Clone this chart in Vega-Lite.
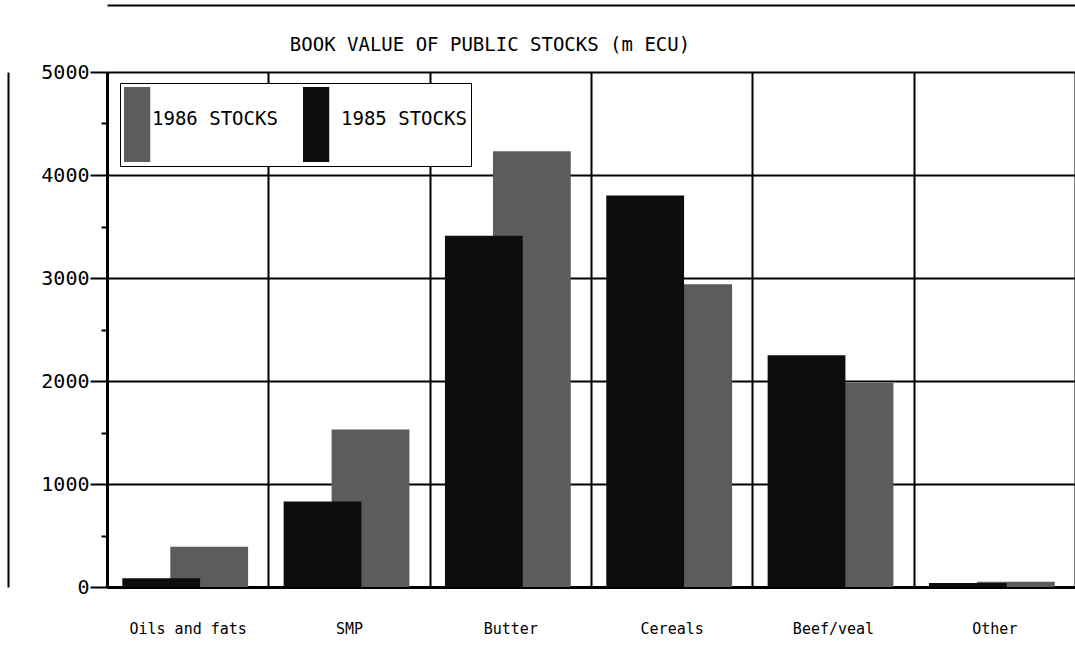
{
  "$schema": "https://vega.github.io/schema/vega-lite/v6.json",
  "width": 968,
  "height": 515,
  "autosize": {"type": "none"},
  "padding": {"left": 107, "top": 72, "right": 0, "bottom": 76},
  "background": "white",
  "title": {"text": "BOOK VALUE OF PUBLIC STOCKS (m ECU)", "font": "DejaVu Sans Mono", "fontSize": 19, "fontWeight": "normal", "anchor": "middle", "dx": -101, "offset": -50, "color": "black"},
  "data": {"values": [
    {"commodity": "Oils and fats", "series": "1986 STOCKS", "value": 390},
    {"commodity": "SMP", "series": "1986 STOCKS", "value": 1530},
    {"commodity": "Butter", "series": "1986 STOCKS", "value": 4230},
    {"commodity": "Cereals", "series": "1986 STOCKS", "value": 2940},
    {"commodity": "Beef/veal", "series": "1986 STOCKS", "value": 1980},
    {"commodity": "Other", "series": "1986 STOCKS", "value": 50},
    {"commodity": "Oils and fats", "series": "1985 STOCKS", "value": 85},
    {"commodity": "SMP", "series": "1985 STOCKS", "value": 830},
    {"commodity": "Butter", "series": "1985 STOCKS", "value": 3410},
    {"commodity": "Cereals", "series": "1985 STOCKS", "value": 3800},
    {"commodity": "Beef/veal", "series": "1985 STOCKS", "value": 2250},
    {"commodity": "Other", "series": "1985 STOCKS", "value": 40}
  ]},
  "layer": [
    {
      "mark": {"type": "bar", "width": {"band": 1.62}},
      "encoding": {
        "x": {
          "field": "commodity", "type": "nominal",
          "sort": ["Oils and fats", "SMP", "Butter", "Cereals", "Beef/veal", "Other"],
          "scale": {"paddingInner": 0, "paddingOuter": 0},
          "axis": {
            "title": null, "labelAngle": 0, "tickBand": "extent", "ticks": false,
            "grid": true, "gridColor": "black", "gridWidth": 2, "gridOpacity": 1,
            "domainColor": "black", "domainWidth": 3,
            "labelFont": "DejaVu Sans Mono", "labelFontSize": 15, "labelColor": "black", "labelPadding": 34,
            "encode": {"labels": {"update": {"dx": {"signal": "datum.value === 'SMP' ? -41 : datum.value === 'Butter' ? -37 : datum.value === 'Cereals' ? -15 : datum.value === 'Beef/veal' ? -26 : datum.value === 'Other' ? -10 : 0"}}}}
          }
        },
        "xOffset": {"field": "series", "type": "nominal", "sort": ["1985 STOCKS", "1986 STOCKS"], "scale": {"paddingInner": 0, "paddingOuter": 0.68, "align": 1}},
        "y": {
          "field": "value", "type": "quantitative", "stack": null,
          "scale": {"domain": [0, 5000], "nice": false},
          "axis": {
            "title": null,
            "values": [0, 500, 1000, 1500, 2000, 2500, 3000, 3500, 4000, 4500, 5000],
            "format": "d",
            "labelExpr": "datum.value % 1000 === 0 ? datum.label : ''",
            "labelFont": "DejaVu Sans Mono", "labelFontSize": 20, "labelColor": "black", "labelPadding": 1,
            "tickColor": "black", "tickWidth": 2,
            "tickSize": {"condition": {"test": "datum.value % 1000 === 0", "value": 17}, "value": 6},
            "domainColor": "black", "domainWidth": 3,
            "grid": true, "gridColor": "black", "gridWidth": 2,
            "gridOpacity": {"condition": {"test": "datum.value % 1000 === 0", "value": 1}, "value": 0}
          }
        },
        "color": {
          "field": "series", "type": "nominal",
          "scale": {"domain": ["1986 STOCKS", "1985 STOCKS"], "range": ["#5c5c5c", "#0d0d0d"]},
          "legend": {
            "orient": "none", "legendX": 13, "legendY": 11, "direction": "horizontal", "title": null,
            "symbolType": "M-1,-1H-0.3V1H-1Z", "symbolSize": 5625, "symbolStrokeWidth": 0, "symbolOpacity": 1,
            "labelFont": "DejaVu Sans Mono", "labelFontSize": 19, "labelColor": "black", "labelOffset": -47, "labelBaseline": "alphabetic",
            "labelExpr": "datum.value === '1985 STOCKS' ? datum.label + ' ' : datum.label",
            "columnPadding": 25, "padding": 4, "strokeColor": "black", "fillColor": "white",
            "encode": {"labels": {"update": {"dx": {"signal": "datum.value === '1985 STOCKS' ? 10 : 0"}}}}
          }
        },
        "order": {"field": "series", "sort": "descending"}
      }
    },
    {
      "mark": {"type": "bar", "opacity": 0, "width": {"band": 1}},
      "encoding": {
        "x": {
          "field": "commodity", "type": "nominal",
          "sort": ["Oils and fats", "SMP", "Butter", "Cereals", "Beef/veal", "Other"],
          "scale": {"paddingInner": 0, "paddingOuter": 0},
          "axis": {"orient": "top", "offset": 67, "title": null, "labels": false, "ticks": false, "grid": false, "domainColor": "black", "domainWidth": 2}
        },
        "y": {
          "field": "value", "type": "quantitative", "stack": null,
          "scale": {"domain": [0, 5000], "nice": false},
          "axis": {"orient": "left", "offset": 99, "title": null, "labels": false, "ticks": false, "grid": false, "domainColor": "black", "domainWidth": 2}
        }
      }
    }
  ],
  "resolve": {"axis": {"x": "independent", "y": "independent"}},
  "config": {"view": {"stroke": null}}
}
